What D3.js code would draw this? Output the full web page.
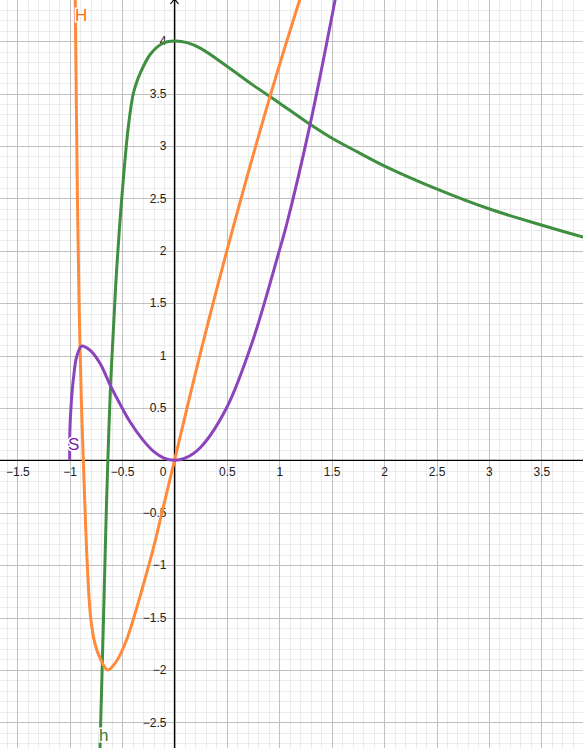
<!DOCTYPE html>
<html>
<head>
<meta charset="utf-8">
<script src="https://cdn.jsdelivr.net/npm/d3@7"></script>
<style>
  html, body { margin: 0; padding: 0; background: #fff; }
  svg { display: block; }
  .tick text { font-family: "Liberation Sans", Arial, sans-serif; font-size: 12px; fill: #222; }
  .lbl { font-family: "Liberation Sans", Arial, sans-serif; font-size: 17px; paint-order: stroke; stroke: #fff; stroke-width: 3px; }
</style>
</head>
<body>
<div id="graph"></div>
<script>
// curve h (green)
const hX = [-0.72, -0.711, -0.690, -0.668, -0.653, -0.636, -0.612, -0.592, -0.558, -0.504, -0.441, -0.393, -0.36, -0.329, -0.234, -0.12, 0,
            0.12, 0.25, 0.5, 0.75, 1, 1.25, 1.5, 1.75, 2, 2.5, 3, 3.5, 3.9, 4.0];
const hY = [-3.1, -2.745, -1.98, -1.142, -0.57, 0, 0.67, 1.08, 1.72, 2.49, 3.18, 3.50, 3.61, 3.69, 3.87, 3.975, 4.0,
            3.985, 3.93, 3.76, 3.58, 3.41, 3.235, 3.075, 2.94, 2.81, 2.59, 2.40, 2.245, 2.13, 2.105];

// curve H (orange)
const HX = [-0.952, -0.947, -0.937, -0.926, -0.911, -0.889, -0.870, -0.832, -0.800, -0.759, -0.711, -0.637,
            -0.552, -0.456, -0.361, -0.298, -0.202, -0.122, 0, 0.243, 0.5, 0.911, 1.26];
const HY = [4.7, 4.392, 3.438, 2.484, 1.530, 0.576, 0, -1.0, -1.5, -1.75, -1.886, -2.0,
            -1.915, -1.71, -1.41, -1.19, -0.84, -0.51, 0, 1.005, 2.0, 3.47, 4.6];

// curve S (purple)
const SX = [-1.0, -0.998, -0.985, -0.966, -0.933, -0.886, -0.806, -0.711, -0.615, -0.52, -0.425, -0.298, -0.2, -0.1, 0,
            0.1, 0.25, 0.5, 0.749, 1.0, 1.07, 1.293, 1.532, 1.6];
const SY = [0, 0.29, 0.55, 0.766, 0.99, 1.09, 1.05, 0.926, 0.72, 0.537, 0.368, 0.19, 0.085, 0.021, 0,
            0.02, 0.125, 0.506, 1.148, 2.0, 2.25, 3.2, 4.39, 4.75];

// axis tick values and labels
const xTicks = [-1.5, -1, -0.5, 0.5, 1, 1.5, 2, 2.5, 3, 3.5];
const xTickLabels = ["\u22121.5", "\u22121", "\u22120.5", "0.5", "1", "1.5", "2", "2.5", "3", "3.5"];
const yTicks = [-2.5, -2, -1.5, -1, -0.5, 0.5, 1, 1.5, 2, 2.5, 3, 3.5, 4];
const yTickLabels = ["\u22122.5", "\u22122", "\u22121.5", "\u22121", "\u22120.5", "0.5", "1", "1.5", "2", "2.5", "3", "3.5", "4"];

document.addEventListener("DOMContentLoaded", function() {
  const width = 583, height = 748;
  const unit = 104.8;          // pixels per unit, same on both axes
  const ox = 174.5, oy = 460.3; // where the origin sits

  const x = d3.scaleLinear().domain([-ox / unit, (width - ox) / unit]).range([0, width]);
  const y = d3.scaleLinear().domain([oy / unit, -(height - oy) / unit]).range([0, height]);

  const svg = d3.select("div#graph").append("svg")
    .attr("width", width)
    .attr("height", height);

  // grid: minor every 0.1, major every 0.5
  const [x0, x1] = x.domain(), [y1, y0] = y.domain();
  const xs = d3.range(Math.ceil(x0 * 10), Math.floor(x1 * 10) + 1).map(i => i / 10);
  const ys = d3.range(Math.ceil(y0 * 10), Math.floor(y1 * 10) + 1).map(i => i / 10);
  const isMajor = v => Math.abs(v * 2 - Math.round(v * 2)) < 1e-6;

  const grid = svg.append("g").attr("shape-rendering", "crispEdges");
  [false, true].forEach(major => {
    grid.selectAll(null).data(xs.filter(v => isMajor(v) === major)).enter().append("line")
      .attr("x1", d => Math.round(x(d)) + 0.5).attr("x2", d => Math.round(x(d)) + 0.5)
      .attr("y1", 0).attr("y2", height)
      .attr("stroke", major ? "#c0c0c0" : "#ebebeb");
    grid.selectAll(null).data(ys.filter(v => isMajor(v) === major)).enter().append("line")
      .attr("y1", d => Math.round(y(d)) + 0.5).attr("y2", d => Math.round(y(d)) + 0.5)
      .attr("x1", 0).attr("x2", width)
      .attr("stroke", major ? "#c0c0c0" : "#ebebeb");
  });

  // axis lines
  svg.append("line").attr("x1", 0).attr("x2", width).attr("y1", y(0)).attr("y2", y(0))
    .attr("stroke", "#000").attr("stroke-width", 1.3);
  svg.append("line").attr("x1", x(0)).attr("x2", x(0)).attr("y1", 0).attr("y2", height)
    .attr("stroke", "#000").attr("stroke-width", 1.3);
  // little arrow head at top of y axis
  svg.append("path")
    .attr("d", `M${x(0) - 4},4 L${x(0)},-1 L${x(0) + 4},4`)
    .attr("fill", "none").attr("stroke", "#000").attr("stroke-width", 1.2);

  // tick labels
  const xAxis = svg.append("g").attr("transform", `translate(0,${y(0)})`)
    .call(d3.axisBottom(x).tickValues(xTicks).tickSize(0).tickPadding(7)
      .tickFormat((d, i) => xTickLabels[i]));
  xAxis.select(".domain").remove();

  const yAxis = svg.append("g").attr("transform", `translate(${x(0)},0)`)
    .call(d3.axisLeft(y).tickValues(yTicks).tickSize(0).tickPadding(8)
      .tickFormat((d, i) => yTickLabels[i]));
  yAxis.select(".domain").remove();

  svg.append("text")
    .attr("x", x(0) - 8).attr("y", y(0) + 16)
    .attr("text-anchor", "end")
    .style("font-family", "Liberation Sans, Arial, sans-serif").style("font-size", "12px").style("fill", "#222")
    .text("0");

  // curves
  const line = d3.line()
    .x(d => x(d[0]))
    .y(d => y(d[1]))
    .curve(d3.curveCatmullRom.alpha(0.5));

  const curves = [
    { xs: hX, ys: hY, color: "#3f8f40" },
    { xs: HX, ys: HY, color: "#ff8a3c" },
    { xs: SX, ys: SY, color: "#8c44bc" }
  ];

  curves.forEach(c => {
    svg.append("path")
      .datum(c.xs.map((v, i) => [v, c.ys[i]]))
      .attr("d", line)
      .attr("fill", "none")
      .attr("stroke", c.color)
      .attr("stroke-width", 3)
      .attr("stroke-linejoin", "round");
  });

  // curve names
  svg.append("text").attr("class", "lbl").attr("x", 75).attr("y", 21).attr("fill", "#ff6c12").text("H");
  svg.append("text").attr("class", "lbl").attr("x", 68).attr("y", 450).attr("fill", "#7a1fa6").text("S");
  svg.append("text").attr("class", "lbl").attr("x", 99).attr("y", 741).attr("fill", "#2f7d32").text("h");
});
</script>
</body>
</html>
